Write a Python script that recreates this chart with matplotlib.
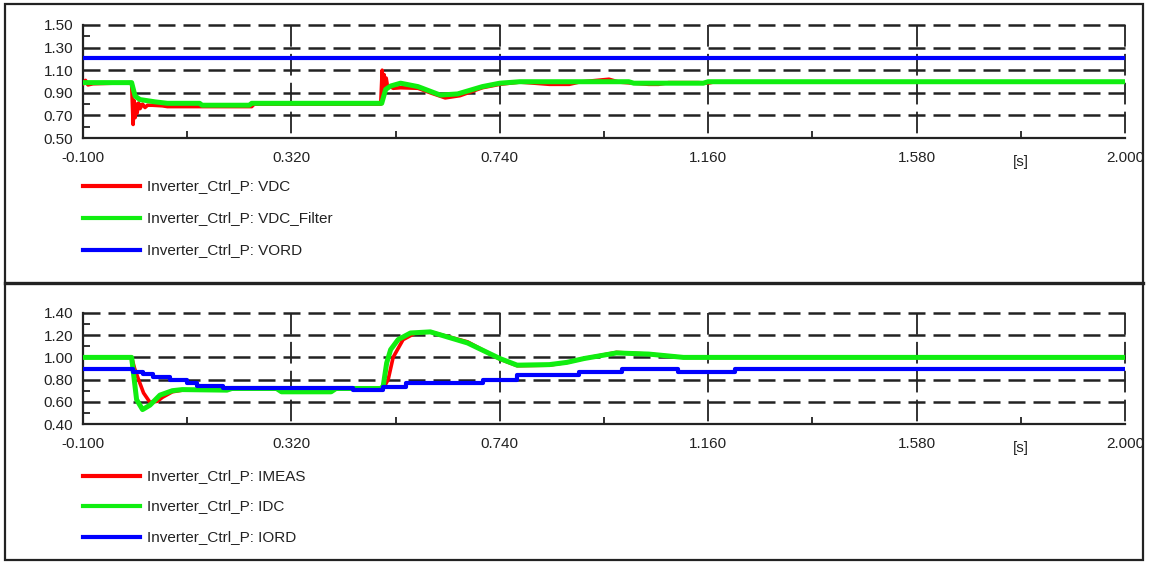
import matplotlib.pyplot as plt
from matplotlib.lines import Line2D
from matplotlib.patches import Rectangle

plt.rcParams['font.family'] = ['Liberation Sans Narrow', 'Liberation Sans', 'DejaVu Sans']

# x axis (time in s)
x_ticks = [-0.1, 0.32, 0.74, 1.16, 1.58, 2.0]
x_ticklabels = ['-0.100', '0.320', '0.740', '1.160', '1.580', '2.000']
x_minor = [0.11, 0.53, 0.95, 1.37, 1.79]

# top plot: DC voltage
t_vdc = [-0.10, -0.095, -0.09, -0.08, -0.002, 0.001, 0.003, 0.005, 0.007, 0.009, 0.012,
         0.015, 0.02, 0.025, 0.03, 0.04, 0.06, 0.07, 0.24, 0.245, 0.50, 0.503, 0.505,
         0.507, 0.509, 0.511, 0.514, 0.518, 0.525, 0.54, 0.575, 0.60, 0.63, 0.66, 0.705,
         0.74, 0.78, 0.84, 0.88, 0.90, 0.96, 0.98, 1.04, 1.06, 1.08, 1.14, 1.16, 1.17, 2.0]
vdc = [0.98, 1.01, 0.97, 0.98, 0.99, 0.62, 0.83, 0.68, 0.80, 0.72, 0.81,
       0.76, 0.80, 0.77, 0.79, 0.79, 0.785, 0.778, 0.778, 0.80, 0.80, 1.10, 0.88,
       1.06, 0.92, 1.03, 0.95, 0.96, 0.94, 0.945, 0.94, 0.90, 0.855, 0.875, 0.945,
       0.975, 0.995, 0.975, 0.975, 0.995, 1.02, 0.995, 0.975, 0.975, 0.99, 0.99, 0.985, 0.995, 0.995]

t_vdcf = [-0.10, -0.002, 0.005, 0.015, 0.03, 0.045, 0.07, 0.135, 0.14, 0.235, 0.24, 0.502,
          0.51, 0.52, 0.54, 0.575, 0.62, 0.655, 0.705, 0.74, 0.78, 1.0, 1.01, 1.15, 1.16, 2.0]
vdcf = [0.99, 0.99, 0.87, 0.84, 0.83, 0.82, 0.807, 0.807, 0.79, 0.79, 0.807, 0.807,
        0.93, 0.96, 0.985, 0.955, 0.88, 0.89, 0.955, 0.985, 0.998, 0.998, 0.985, 0.985, 0.998, 0.998]

t_vord = [-0.10, 2.0]
vord = [1.21, 1.21]

# bottom plot: DC current
t_imeas = [-0.10, -0.002, 0.004, 0.012, 0.022, 0.035, 0.05, 0.06, 0.08, 0.10, 0.19, 0.2,
           0.29, 0.3, 0.40, 0.41, 0.50, 0.505, 0.515, 0.525, 0.545, 0.57, 0.60, 0.675, 0.74,
           0.775, 0.84, 0.875, 0.91, 0.975, 1.04, 1.11, 2.0]
imeas = [1.0, 1.0, 0.90, 0.80, 0.68, 0.595, 0.605, 0.64, 0.69, 0.705, 0.71, 0.72,
         0.72, 0.695, 0.695, 0.72, 0.72, 0.72, 0.80, 1.00, 1.16, 1.22, 1.23, 1.14, 0.985,
         0.925, 0.93, 0.955, 0.99, 1.045, 1.03, 1.0, 1.0]

t_idc = [-0.10, -0.002, 0.008, 0.02, 0.035, 0.055, 0.08, 0.10, 0.19, 0.2, 0.29, 0.3,
         0.40, 0.41, 0.50, 0.505, 0.512, 0.52, 0.535, 0.56, 0.60, 0.675, 0.74, 0.775,
         0.84, 0.875, 0.91, 0.975, 1.04, 1.11, 2.0]
idc = [1.0, 1.0, 0.62, 0.53, 0.57, 0.66, 0.70, 0.71, 0.705, 0.72, 0.72, 0.69,
       0.69, 0.72, 0.72, 0.74, 0.95, 1.07, 1.16, 1.22, 1.23, 1.13, 0.99, 0.93,
       0.935, 0.955, 0.99, 1.04, 1.03, 1.0, 1.0]

t_iord = [-0.1, 0.0, 0.021, 0.041, 0.075, 0.11, 0.13, 0.183, 0.444, 0.505, 0.55,
          0.706, 0.775, 0.90, 0.987, 1.10, 1.215, 2.0]
iord = [0.893, 0.871, 0.848, 0.82, 0.796, 0.767, 0.742, 0.72, 0.705, 0.736, 0.772,
        0.80, 0.84, 0.871, 0.895, 0.871, 0.895, 0.895]

top_labels = ['Inverter_Ctrl_P: VDC', 'Inverter_Ctrl_P: VDC_Filter', 'Inverter_Ctrl_P: VORD']
bottom_labels = ['Inverter_Ctrl_P: IMEAS', 'Inverter_Ctrl_P: IDC', 'Inverter_Ctrl_P: IORD']

RED = '#ff0000'
GREEN = '#10ee10'
BLUE = '#0000ff'
INK = '#222222'
FS = 11


def style_axis(ax, ymin, ymax):
    ax.set_xlim(-0.1, 2.0)
    ax.set_ylim(ymin, ymax)
    for side in ['top', 'right']:
        ax.spines[side].set_visible(False)
    for side in ['left', 'bottom']:
        ax.spines[side].set_linewidth(1.6)
        ax.spines[side].set_color(INK)
    yt = [round(ymin + 0.2 * i, 2) for i in range(6)]
    ym = [round(ymin + 0.1 + 0.2 * i, 2) for i in range(5)]
    ax.set_yticks(yt)
    ax.set_yticklabels([f'{y:.2f}' for y in yt])
    ax.set_yticks(ym, minor=True)
    ax.set_xticks(x_ticks)
    ax.set_xticklabels(x_ticklabels)
    ax.set_xticks(x_minor, minor=True)
    ax.tick_params(which='major', length=0, labelsize=FS, colors=INK)
    ax.tick_params(axis='x', which='major', pad=9)
    ax.tick_params(axis='y', which='major', pad=7)
    ax.tick_params(which='minor', direction='in', length=5, width=1.3, color=INK)
    # dashed grid
    for y in yt[1:]:
        ax.plot([-0.1, 2.0], [y, y], color=INK, lw=1.8, ls=(0, (6.8, 3.2)), zorder=1, clip_on=False)
    for x in x_ticks[1:]:
        ax.plot([x, x], [ymax, ymin], color=INK, lw=1.3, ls=(0, (12, 4)), zorder=1, clip_on=False)
    # unit label under the minor tick
    ax.text(1.79, -0.15, '[s]', transform=ax.get_xaxis_transform(),
            ha='center', va='top', fontsize=FS, color=INK)


def add_legend(fig, ys, labels):
    for y, lab, col in zip(ys, labels, [RED, GREEN, BLUE]):
        fig.add_artist(Line2D([83 / 1150, 140 / 1150], [1 - y / 563, 1 - y / 563],
                              color=col, lw=3))
        fig.text(147 / 1150, 1 - y / 563, lab, fontsize=FS, color=INK, va='center', ha='left')


fig = plt.figure(figsize=(11.5, 5.63), dpi=100)

ax1 = fig.add_axes([83 / 1150, 1 - 138 / 563, 1042 / 1150, 113 / 563])
style_axis(ax1, 0.5, 1.5)
ax1.plot(t_vdc, vdc, color=RED, lw=2.6, zorder=3)
ax1.plot(t_vdcf, vdcf, color=GREEN, lw=3.6, zorder=4)
ax1.plot(t_vord, vord, color=BLUE, lw=3.0, zorder=5)

ax2 = fig.add_axes([83 / 1150, 1 - 424 / 563, 1042 / 1150, 111 / 563])
style_axis(ax2, 0.4, 1.4)
ax2.plot(t_imeas, imeas, color=RED, lw=2.6, zorder=3)
ax2.plot(t_idc, idc, color=GREEN, lw=3.6, zorder=4)
ax2.plot(t_iord, iord, color=BLUE, lw=3.0, zorder=5, drawstyle='steps-post')

add_legend(fig, [186, 218, 250], top_labels)
add_legend(fig, [476, 506, 537], bottom_labels)

# frame and divider
fig.add_artist(Rectangle((1144 / 1150, 0), 6 / 1150, 1, transform=fig.transFigure,
                         facecolor='white', edgecolor='none', zorder=10))
fig.add_artist(Rectangle((5 / 1150, 3 / 563), 1138 / 1150, 556 / 563, transform=fig.transFigure,
                         facecolor='none', edgecolor=INK, lw=1.6, zorder=11))
fig.add_artist(Line2D([5 / 1150, 1143 / 1150], [1 - 283 / 563, 1 - 283 / 563],
                      color=INK, lw=2.4, zorder=11))

fig.savefig('out.png', dpi=100)
